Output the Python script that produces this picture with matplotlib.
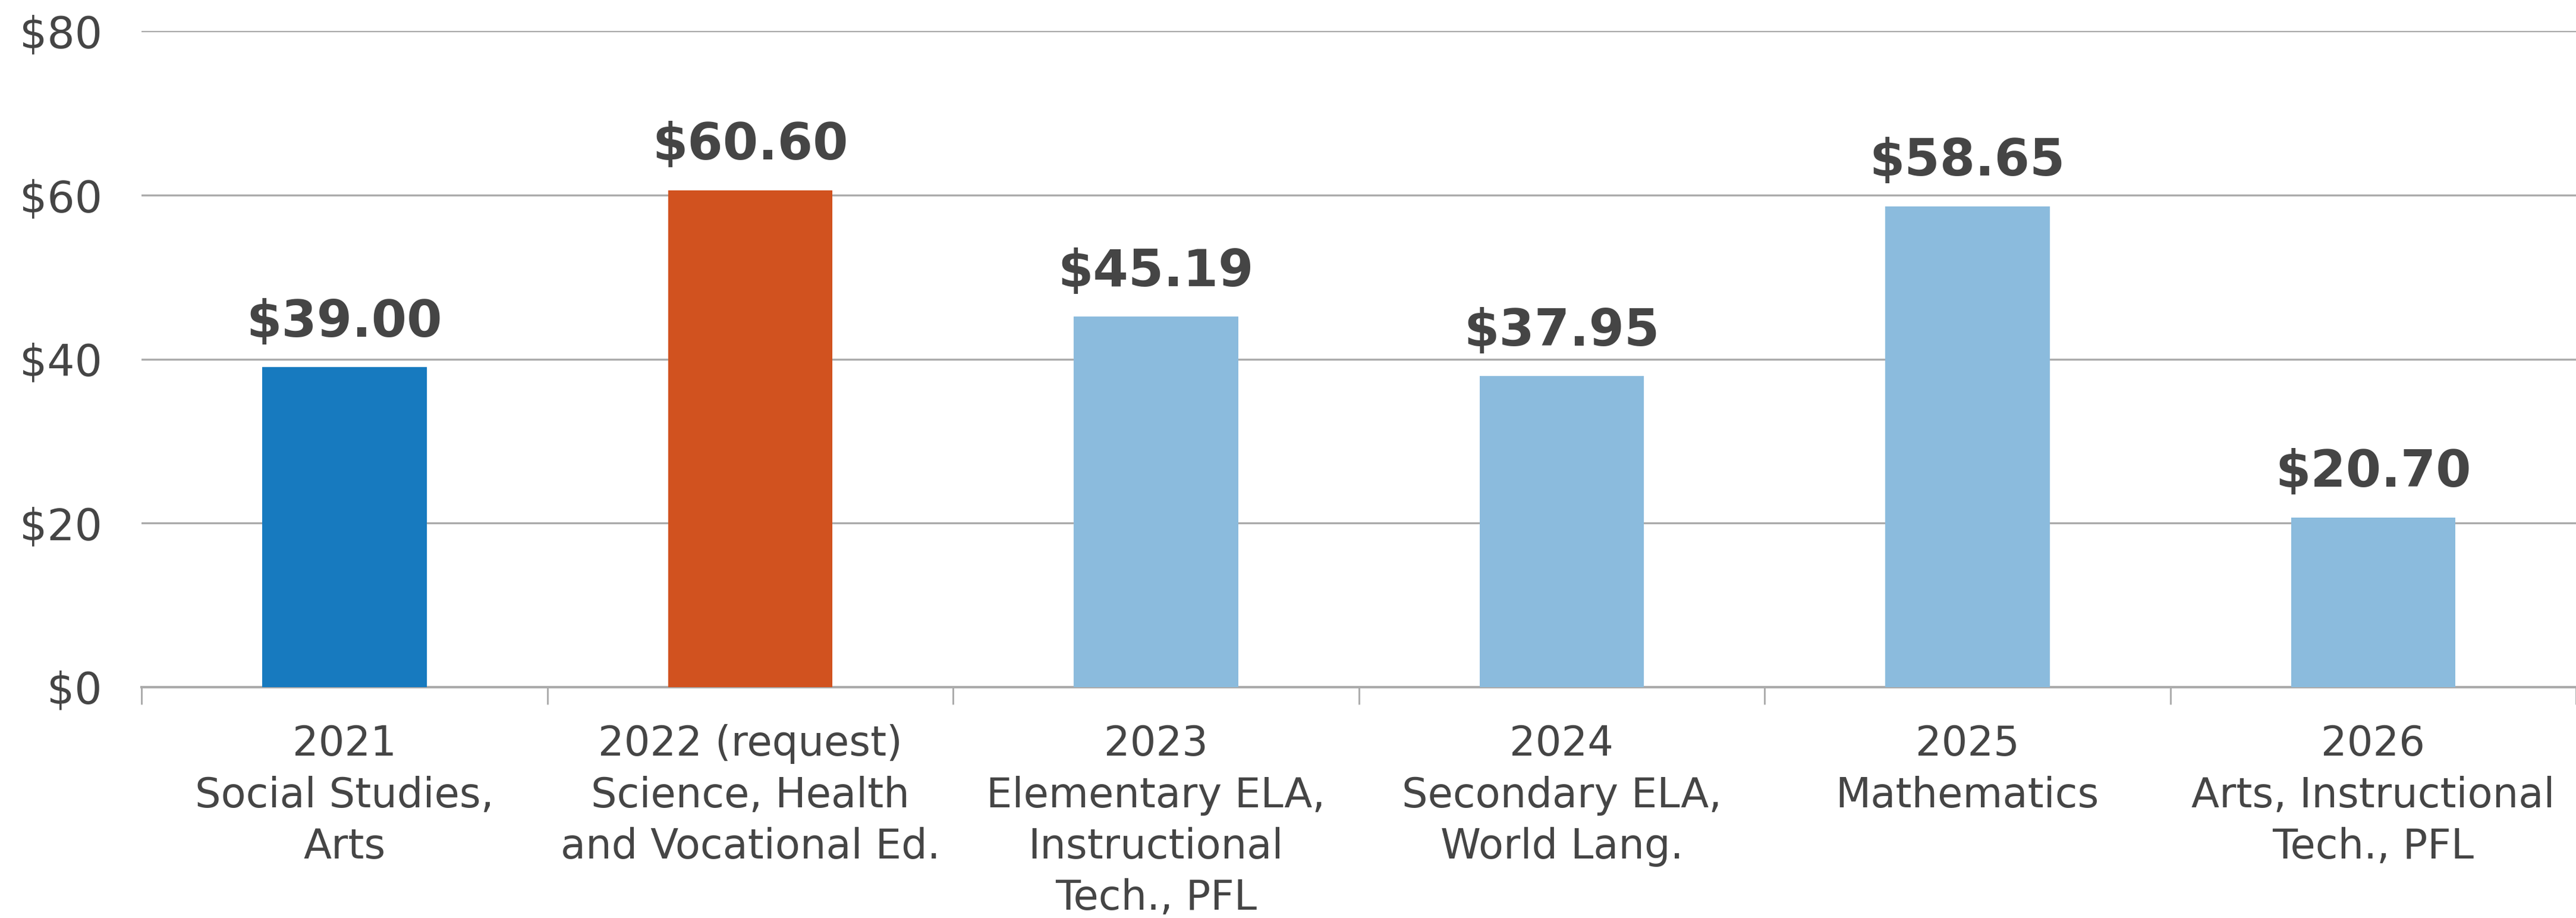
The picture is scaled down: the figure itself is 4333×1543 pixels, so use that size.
import numpy as np
import matplotlib.pyplot as plt
from matplotlib.ticker import FixedLocator

years = ["2021", "2022 (request)", "2023", "2024", "2025", "2026"]
subjects = ["Social Studies,\nArts",
            "Science, Health\nand Vocational Ed.",
            "Elementary ELA,\nInstructional\nTech., PFL",
            "Secondary ELA,\nWorld Lang.",
            "Mathematics",
            "Arts, Instructional\nTech., PFL"]
values = [39.00, 60.60, 45.19, 37.95, 58.65, 20.70]
bar_colors = ["#177ABF", "#D1521F", "#8BBBDD", "#8BBBDD", "#8BBBDD", "#8BBBDD"]

text_col = "#454545"
grid_col = "#ABABAB"

plt.rcParams['font.family'] = ['DejaVu Sans']

fig = plt.figure(figsize=(4333 / 300, 1543 / 300), dpi=300)
ax = fig.add_axes([0.055, 0.2515, 0.945, 0.7145])

x = np.arange(len(values))
bars = ax.bar(x, values, width=0.405, color=bar_colors, zorder=3)

for xi, v in zip(x, values):
    ax.annotate(f"${v:.2f}", (xi, v), xytext=(0, 8), textcoords='offset points',
                ha='center', va='bottom', fontsize=20.5, fontweight='bold', color=text_col)

ax.set_xlim(-0.5, len(values) - 0.5)
ax.set_ylim(0, 80)
ax.set_yticks(np.arange(0, 81, 20))
ax.set_yticklabels([f"${t}" for t in range(0, 81, 20)])
ax.tick_params(axis='y', length=0, pad=16, labelsize=17.5, labelcolor=text_col)

ax.set_xticks(x)
ax.set_xticklabels([f"{y}\n{s}" for y, s in zip(years, subjects)],
                   fontsize=16.5, color=text_col, linespacing=1.36, va='top')
ax.tick_params(axis='x', which='major', length=0, pad=15)
ax.xaxis.set_minor_locator(FixedLocator(np.arange(-0.5, len(values), 1.0)))
ax.tick_params(axis='x', which='minor', length=7, width=0.7, color=grid_col)

ax.grid(axis='y', color=grid_col, linewidth=0.8, zorder=0)
for s in ['top', 'right', 'left']:
    ax.spines[s].set_visible(False)
ax.spines['bottom'].set_color(grid_col)
ax.spines['bottom'].set_linewidth(1.0)

fig.savefig("out.png", dpi=300)
